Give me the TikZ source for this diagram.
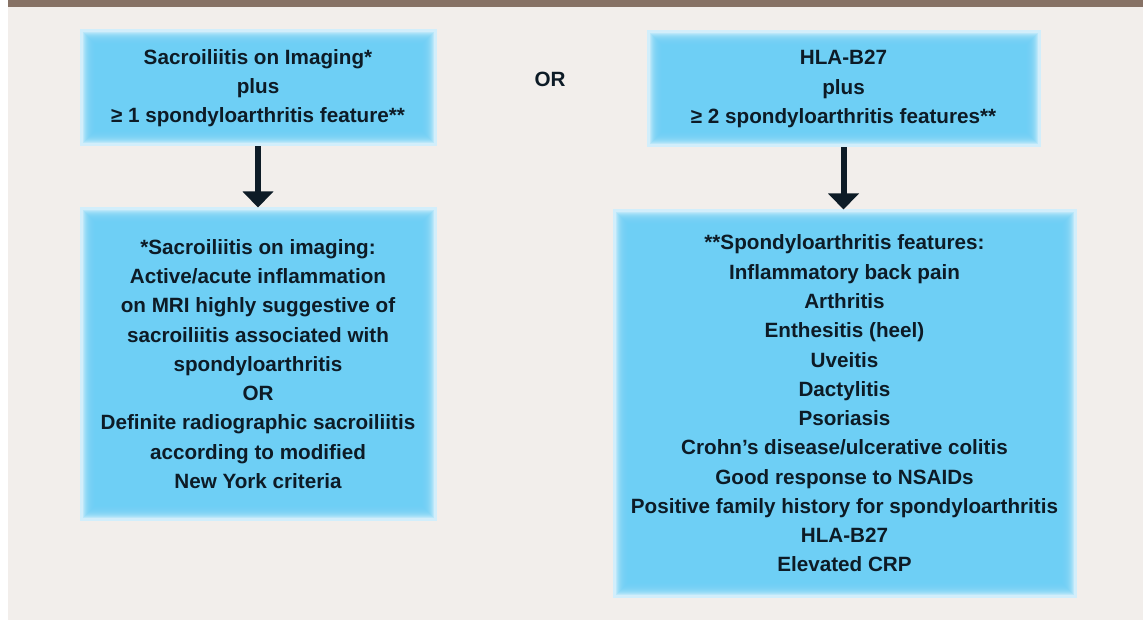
\documentclass[tikz,border=0pt]{standalone}
\usepackage{fontspec}
\setmainfont{Liberation Sans}
\usetikzlibrary{arrows.meta,backgrounds,calc}
\definecolor{pagegrey}{RGB}{242,238,235}
\definecolor{barbrown}{RGB}{135,114,101}
\definecolor{boxpale}{RGB}{210,238,251}
\definecolor{boxblue}{RGB}{108,207,245}
\definecolor{inkblue}{RGB}{13,27,38}
\tikzset{every picture/.style={line width=0.75pt}}
\tikzset{
critbox/.style={inner sep=0pt, align=center, text=inkblue, font=\fontsize{15.5}{21.94}\selectfont\bfseries},
arrowstem/.style={draw=inkblue, line width=4.5pt, -{Triangle[width=22.5pt,length=12pt]}}}

\begin{document}
\begin{tikzpicture}[x=0.75pt,y=0.75pt,yscale=-1,xscale=1]
\useasboundingbox (0,0) rectangle (1143,620);

% Text Node
\node [critbox, minimum width=267pt, minimum height=87pt] (sacro) at (258,88) {Sacroiliitis on Imaging*\\plus\\≥ 1 spondyloarthritis feature**};
% Text Node
\node [critbox, minimum width=294.75pt, minimum height=87pt] (hla) at (843.5,89) {HLA-B27\\plus\\≥ 2 spondyloarthritis features**};
% Text Node
\node [critbox] (or) at (550,79) {OR};
% Text Node
\node [critbox, minimum width=267pt, minimum height=234pt] (sacrodef) at (258,364) {*Sacroiliitis on imaging:\\Active/acute inflammation\\on MRI highly suggestive of\\sacroiliitis associated with\\spondyloarthritis\\OR\\Definite radiographic sacroiliitis\\according to modified\\New York criteria};
% Text Node
\node [critbox, minimum width=347.25pt, minimum height=290.25pt] (spafeat) at (844.5,403.5) {**Spondyloarthritis features:\\Inflammatory back pain\\Arthritis\\Enthesitis (heel)\\Uveitis\\Dactylitis\\Psoriasis\\Crohn’s disease/ulcerative colitis\\Good response to NSAIDs\\Positive family history for spondyloarthritis\\HLA-B27\\Elevated CRP};

%Arrows
\draw [arrowstem] (sacro.south) -- (sacrodef.north);
\draw [arrowstem] (hla.south) -- (hla.south |- spafeat.north);

\begin{pgfonlayer}{background}
%Shape: page and top bar
\fill [white] (0,0) rectangle (1143,620);
\fill [pagegrey] (8,0) rectangle (1143,620);
\fill [barbrown] (8,0) rectangle (1143,7.5);
%Shape: glowing boxes
\foreach \n in {sacro,hla,sacrodef,spafeat}{
  \fill [boxpale] (\n.north west) rectangle (\n.south east);
  \foreach \i in {3,...,15}
    \fill [boxblue, fill opacity=0.22] ($(\n.north west)+(\i,\i)$) rectangle ($(\n.south east)-(\i,\i)$);
}
\end{pgfonlayer}

\end{tikzpicture}
\end{document}
